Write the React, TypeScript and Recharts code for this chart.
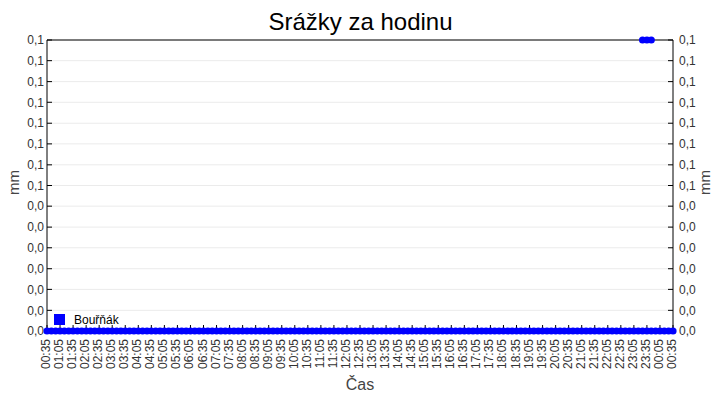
import React from 'react';
import { CartesianGrid, Label, ReferenceLine, Scatter, ScatterChart, XAxis, YAxis } from 'recharts';

const FONT = '"Liberation Sans", Arial, sans-serif';

// x axis labels, every 30 minutes over one day
const tickLabels = [
  '00:35', '01:05', '01:35', '02:05', '02:35', '03:05', '03:35', '04:05', '04:35', '05:05',
  '05:35', '06:05', '06:35', '07:05', '07:35', '08:05', '08:35', '09:05', '09:35', '10:05',
  '10:35', '11:05', '11:35', '12:05', '12:35', '13:05', '13:35', '14:05', '14:35', '15:05',
  '15:35', '16:05', '16:35', '17:05', '17:35', '18:05', '18:35', '19:05', '19:35', '20:05',
  '20:35', '21:05', '21:35', '22:05', '22:35', '23:05', '23:35', '00:05', '00:35',
];

// y ticks, 0 .. 0.1 mm split into 14 steps (shown with one decimal)
const yTicks = [0, 0.0071, 0.0143, 0.0214, 0.0286, 0.0357, 0.0429, 0.05, 0.0571, 0.0643, 0.0714, 0.0786, 0.0857, 0.0929, 0.1];

// rain per hour, readings every 10 minutes from 00:35
const rainEvery10Min = [
  0, 0, 0, 0, 0, 0, 0, 0, 0, 0, 0, 0, // 00:35 - 02:25
  0, 0, 0, 0, 0, 0, 0, 0, 0, 0, 0, 0, // 02:35 - 04:25
  0, 0, 0, 0, 0, 0, 0, 0, 0, 0, 0, 0, // 04:35 - 06:25
  0, 0, 0, 0, 0, 0, 0, 0, 0, 0, 0, 0, // 06:35 - 08:25
  0, 0, 0, 0, 0, 0, 0, 0, 0, 0, 0, 0, // 08:35 - 10:25
  0, 0, 0, 0, 0, 0, 0, 0, 0, 0, 0, 0, // 10:35 - 12:25
  0, 0, 0, 0, 0, 0, 0, 0, 0, 0, 0, 0, // 12:35 - 14:25
  0, 0, 0, 0, 0, 0, 0, 0, 0, 0, 0, 0, // 14:35 - 16:25
  0, 0, 0, 0, 0, 0, 0, 0, 0, 0, 0, 0, // 16:35 - 18:25
  0, 0, 0, 0, 0, 0, 0, 0, 0, 0, 0, 0, // 18:35 - 20:25
  0, 0, 0, 0, 0, 0, 0, 0, 0, 0, 0, 0, // 20:35 - 22:25
  0, 0, 0, 0, 0, 0, 0, 0, 0, 0, 0, 0, // 22:35 - 00:25
  0,                                  // 00:35
];

// the few readings that reached the top of the scale
const peakTimes = ['23:25', '23:35', '23:45'];
const peakMm = [0.1, 0.1, 0.1];

const toOffset = (hhmm: string) => {
  const [h, m] = hhmm.split(':').map(Number);
  return (h * 60 + m - 35 + 1440) % 1440;
};

const points = [
  ...rainEvery10Min.map((mm, i) => ({ t: i * 10, mm })),
  ...peakTimes.map((time, i) => ({ t: toOffset(time), mm: peakMm[i] })),
];

const xTicks = tickLabels.map((_, i) => i * 30);
const formatMm = (v: number) => (Math.round(v * 10) / 10).toFixed(1).replace('.', ',');

const TimeTick = (props: any) => {
  const { x, y, payload } = props;
  const bx = x + 3;
  return (
    <text x={bx} y={y} transform={`rotate(-90 ${bx} ${y})`} textAnchor="end" fill="#333" fontSize={12} fontFamily={FONT}>
      {tickLabels[Math.round(payload.value / 30)]}
    </text>
  );
};

const yTitle = (side: 'left' | 'right') => (props: any) => {
  const { x, y, width, height } = props.viewBox;
  const bx = side === 'left' ? x + 19 : x + width - 10;
  const cy = y + height / 2 - 3;
  return (
    <text x={bx} y={cy} transform={`rotate(-90 ${bx} ${cy})`} textAnchor="middle" fill="#444" fontSize={15} fontFamily={FONT}>
      mm
    </text>
  );
};

const xTitle = (props: any) => {
  const { x, y, width } = props.viewBox;
  return (
    <text x={x + width / 2} y={y + 59} textAnchor="middle" fill="#444" fontSize={16} fontFamily={FONT}>
      Čas
    </text>
  );
};

const Dot = (props: any) => <circle cx={props.cx} cy={props.cy} r={3.6} fill="#0000ff" />;
const NoDot = () => <g />;

export default function App() {
  const tickStyle = { fill: '#333', fontSize: 12, fontFamily: FONT };
  return (
    <div style={{ position: 'absolute', left: -0.5, top: -0.5, width: 720, height: 400, background: '#fff' }}>
      <ScatterChart width={720} height={400} margin={{ top: 40, right: 0, bottom: 0, left: 0 }}>
        <CartesianGrid vertical={false} stroke="#ebebeb" />
        <XAxis
          type="number"
          dataKey="t"
          domain={[0, 1440]}
          ticks={xTicks}
          interval={0}
          height={69}
          stroke="#000"
          tickSize={-6}
          tickMargin={14}
          tick={<TimeTick />}
        >
          <Label content={xTitle} />
        </XAxis>
        <YAxis
          type="number"
          dataKey="mm"
          domain={[0, 0.1]}
          ticks={yTicks}
          interval={0}
          width={47}
          stroke="#000"
          tickSize={-5}
          tickMargin={8}
          tick={tickStyle}
          tickFormatter={formatMm}
        >
          <Label content={yTitle('left')} />
        </YAxis>
        <YAxis
          yAxisId="right"
          orientation="right"
          type="number"
          dataKey="mm"
          domain={[0, 0.1]}
          ticks={yTicks}
          interval={0}
          width={47}
          stroke="#000"
          tickSize={-5}
          tickMargin={11}
          tick={tickStyle}
          tickFormatter={formatMm}
        >
          <Label content={yTitle('right')} />
        </YAxis>
        <ReferenceLine y={0.1} stroke="#000" />
        <Scatter yAxisId="right" data={points} dataKey="mm" shape={<NoDot />} legendType="none" isAnimationActive={false} />
        <Scatter data={points} dataKey="mm" shape={<Dot />} isAnimationActive={false} />
      </ScatterChart>
      <svg width={720} height={400} style={{ position: 'absolute', left: 0, top: 0, pointerEvents: 'none' }}>
        <text x={360.5} y={30} textAnchor="middle" fill="#000" fontSize={24} fontFamily={FONT}>
          Srážky za hodinu
        </text>
        <rect x={54} y={314} width={11} height={11} fill="#0000ff" />
        <text x={74} y={323.5} fill="#000" fontSize={12} fontFamily={FONT}>
          Bouřňák
        </text>
      </svg>
    </div>
  );
}
